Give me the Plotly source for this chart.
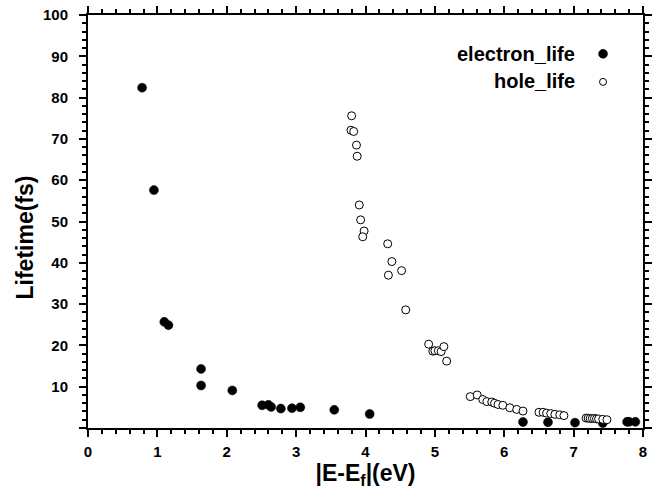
import plotly.graph_objects as go

electron_x = [0.78, 0.95, 1.10, 1.16, 1.63, 1.63, 2.08, 2.51, 2.60, 2.64, 2.78, 2.94, 3.06, 3.55, 4.06,
              6.27, 6.63, 7.02, 7.42, 7.77, 7.80, 7.89]
electron_y = [82.4, 57.6, 25.7, 24.9, 14.3, 10.3, 9.1, 5.5, 5.6, 5.1, 4.7, 4.8, 5.0, 4.4, 3.4,
              1.45, 1.4, 1.3, 1.2, 1.5, 1.5, 1.5]

hole_x = [3.80, 3.79, 3.83, 3.87, 3.88, 3.91, 3.93, 3.98, 3.96,
          4.32, 4.38, 4.33, 4.52, 4.58,
          4.91, 4.97, 5.00, 5.05, 5.09, 5.13, 5.17,
          5.51, 5.61, 5.69, 5.75, 5.82, 5.86, 5.91, 5.98, 6.08, 6.18, 6.27,
          6.50, 6.56, 6.61, 6.67, 6.73, 6.80, 6.86,
          7.18, 7.21, 7.24, 7.27, 7.30, 7.33, 7.36, 7.42, 7.48]
hole_y = [75.6, 72.1, 71.8, 68.5, 65.8, 54.0, 50.4, 47.7, 46.3,
          44.6, 40.3, 37.0, 38.1, 28.6,
          20.3, 18.6, 18.7, 18.7, 18.5, 19.7, 16.2,
          7.6, 8.0, 6.9, 6.4, 6.3, 6.0, 5.7, 5.5, 4.9, 4.5, 4.1,
          3.8, 3.8, 3.6, 3.5, 3.3, 3.2, 3.0,
          2.4, 2.4, 2.3, 2.3, 2.3, 2.2, 2.2, 2.1, 2.0]

x_tickvals = [0, 1, 2, 3, 4, 5, 6, 7, 8]
x_ticktext = ["0", "1", "2", "3", "4", "5", "6", "7", "8"]
y_tickvals = [0, 10, 20, 30, 40, 50, 60, 70, 80, 90, 100]
y_ticktext = ["", "10", "20", "30", "40", "50", "60", "70", "80", "90", "100"]

series_names = ["electron_life", "hole_life"]
x_title = "|E-E<sub>f</sub>|(eV)"
y_title = "Lifetime(fs)"

FONT = "Arial, Liberation Sans, Helvetica, sans-serif"
X_RANGE = [0, 8]
Y_RANGE = [0, 100]

fig = go.Figure()
fig.add_trace(go.Scatter(
    x=electron_x, y=electron_y, mode="markers", name=series_names[0],
    marker=dict(symbol="circle", size=9, color="black", line=dict(width=0.5, color="black")),
    showlegend=False,
))
fig.add_trace(go.Scatter(
    x=hole_x, y=hole_y, mode="markers", name=series_names[1],
    marker=dict(symbol="circle", size=8, color="white", line=dict(width=1, color="black")),
    showlegend=False,
))

tickfont = dict(family=FONT, size=15, color="black", weight="bold")

fig.update_xaxes(
    range=X_RANGE, tickmode="array", tickvals=x_tickvals, ticktext=x_ticktext,
    showline=True, linecolor="black", linewidth=2, mirror="allticks", automargin=False,
    ticks="outside", ticklen=7, tickwidth=2, tickcolor="black",
    showgrid=False, zeroline=False, tickfont=tickfont, ticklabelstandoff=2,
    minor=dict(dtick=0.2, ticks="outside", ticklen=4, tickwidth=1.6, tickcolor="black"),
    title=dict(text=x_title, font=dict(family=FONT, size=23, color="black", weight="bold"), standoff=6),
)
fig.update_yaxes(
    range=Y_RANGE, tickmode="array", tickvals=y_tickvals, ticktext=y_ticktext,
    showline=True, linecolor="black", linewidth=2, mirror="allticks", automargin=False,
    ticks="outside", ticklen=7, tickwidth=2, tickcolor="black",
    showgrid=False, zeroline=False, tickfont=tickfont, ticklabelstandoff=8,
    minor=dict(dtick=2, ticks="outside", ticklen=4, tickwidth=1.6, tickcolor="black"),
)

# y-axis title
fig.add_annotation(x=-0.113, y=0.462, xref="paper", yref="paper", xanchor="center", yanchor="middle",
                   text=y_title, textangle=-90, showarrow=False,
                   font=dict(family=FONT, size=23, color="black", weight="bold"))

# legend (text on the left, symbol on the right, as in the reference)
leg_font = dict(family=FONT, size=20, color="black", weight="bold")
fig.add_annotation(x=0.881, y=0.905, xref="paper", yref="paper", xanchor="right", yanchor="middle",
                   text=series_names[0], showarrow=False, font=leg_font)
fig.add_annotation(x=0.881, y=0.840, xref="paper", yref="paper", xanchor="right", yanchor="middle",
                   text=series_names[1], showarrow=False, font=leg_font)
fig.add_shape(type="circle", xref="paper", yref="paper", xsizemode="pixel", ysizemode="pixel",
              xanchor=0.928, yanchor=0.906, x0=-4.5, x1=4.5, y0=-4.5, y1=4.5,
              fillcolor="black", line=dict(color="black", width=0.5))
fig.add_shape(type="circle", xref="paper", yref="paper", xsizemode="pixel", ysizemode="pixel",
              xanchor=0.928, yanchor=0.838, x0=-3.5, x1=3.5, y0=-3.5, y1=3.5,
              fillcolor="white", line=dict(color="black", width=1))

fig.update_layout(
    width=666, height=496,
    margin=dict(l=88, r=23, t=15, b=68),
    paper_bgcolor="white", plot_bgcolor="white",
    font=dict(family=FONT, color="black"),
    showlegend=False,
)

fig.write_html("out.html")
